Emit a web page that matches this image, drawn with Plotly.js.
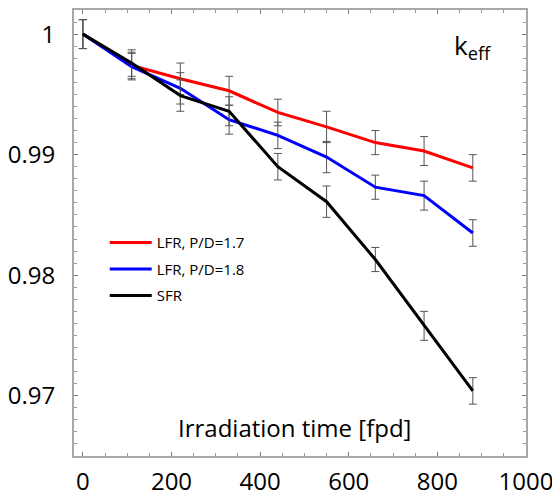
<!DOCTYPE html>
<html>
<head>
<meta charset="utf-8">
<script src="https://cdn.plot.ly/plotly-3.0.1.min.js"></script>
<style>html,body{margin:0;padding:0;background:#fff;}#chart{width:552px;height:498px;}</style>
</head>
<body>
<div id="chart"></div>
<script>
// Irradiation time [fpd]
const days = [0, 110, 220, 330, 440, 550, 660, 770, 880];
// k_eff values
const lfr17 = [1.0000, 0.9974, 0.9963, 0.9953, 0.9935, 0.9923, 0.9910, 0.9903, 0.9889];
const lfr18 = [1.0000, 0.9973, 0.9955, 0.9929, 0.9916, 0.9898, 0.9873, 0.9866, 0.9835];
const sfr   = [1.0000, 0.9976, 0.9949, 0.9936, 0.9890, 0.9861, 0.9813, 0.9758, 0.9704];
// statistical uncertainty (1 sigma)
const err17 = [0.0012, 0.0011, 0.0013, 0.0012, 0.0011, 0.0013, 0.0010, 0.0012, 0.0011];
const err18 = [0.0012, 0.0011, 0.0013, 0.0012, 0.0011, 0.0013, 0.0010, 0.0012, 0.0011];
const errS  = [0.0012, 0.0011, 0.0013, 0.0012, 0.0011, 0.0013, 0.0010, 0.0012, 0.0011];
const seriesNames = ['LFR, P/D=1.7', 'LFR, P/D=1.8', 'SFR'];
const yTickVals = [0.97, 0.98, 0.99, 1.0];
const yTickText = ['0.97', '0.98', '0.99', '1'];
const yHalfTicks = [0.965, 0.975, 0.985, 0.995];
const xTickVals = [0, 200, 400, 600, 800, 1000];

const FONT = 'Open Sans, Noto Sans, sans-serif';
function mk(name, y, err, color, grp) {
  return {
    x: days, y: y, name: name, type: 'scatter', mode: 'lines', legendgroup: grp,
    line: {color: color, width: 3},
    error_y: {type: 'data', array: err, visible: true, color: '#555555', thickness: 1, width: 4}
  };
}
const traces = [
  mk(seriesNames[0], lfr17, err17, '#ff0000', 'a'),
  mk(seriesNames[1], lfr18, err18, '#0000ff', 'b'),
  mk(seriesNames[2], sfr, errS, '#000000', 'c')
];
const yRange = [0.965, 1.002];
const layout = {
  width: 552, height: 498,
  margin: {l: 74, r: 26, t: 10, b: 42},
  paper_bgcolor: '#ffffff', plot_bgcolor: '#ffffff',
  font: {family: FONT, color: '#000'},
  showlegend: true,
  legend: {x: 0.068, y: 0.515, xanchor: 'left', yanchor: 'top', bgcolor: 'rgba(0,0,0,0)',
           font: {size: 15, family: FONT}, tracegroupgap: 4, itemwidth: 42},
  xaxis: {
    range: [-20, 1000], tickvals: xTickVals, ticks: 'inside', ticklen: 4, tickcolor: '#777',
    showline: true, linecolor: '#a8a8a8', linewidth: 2, mirror: 'ticks', showgrid: false, zeroline: false,
    tickfont: {size: 24, family: FONT}, ticklabelstandoff: 3, ticklabeloverflow: 'allow',
    minor: {dtick: 50, ticks: 'inside', ticklen: 3, tickcolor: '#999', showgrid: false}
  },
  yaxis: {
    range: yRange, tickvals: yTickVals, ticktext: yTickText, ticks: 'inside', ticklen: 4, tickcolor: '#777',
    showline: true, linecolor: '#a8a8a8', linewidth: 2, mirror: 'ticks', showgrid: false, zeroline: false,
    tickfont: {size: 24, family: FONT}, ticklabelstandoff: 12,
    minor: {dtick: 0.001, ticks: 'inside', ticklen: 3, tickcolor: '#999', showgrid: false}
  },
  yaxis2: {
    overlaying: 'y', side: 'left', range: yRange, tickvals: yHalfTicks, showticklabels: false,
    ticks: 'inside', ticklen: 4, tickcolor: '#777', showline: false, mirror: 'ticks',
    showgrid: false, zeroline: false
  },
  annotations: [
    {text: 'Irradiation time [fpd]', xref: 'paper', yref: 'paper', x: 0.487, y: 0.063, xanchor: 'center', yanchor: 'middle',
     showarrow: false, font: {size: 24, family: FONT}},
    {text: 'k<sub>eff</sub>', xref: 'paper', yref: 'paper', x: 0.882, y: 0.92, xanchor: 'center', yanchor: 'middle',
     showarrow: false, font: {size: 26, family: FONT}}
  ]
};
Plotly.newPlot('chart', traces, layout, {displayModeBar: false, staticPlot: true});
</script>
</body>
</html>
